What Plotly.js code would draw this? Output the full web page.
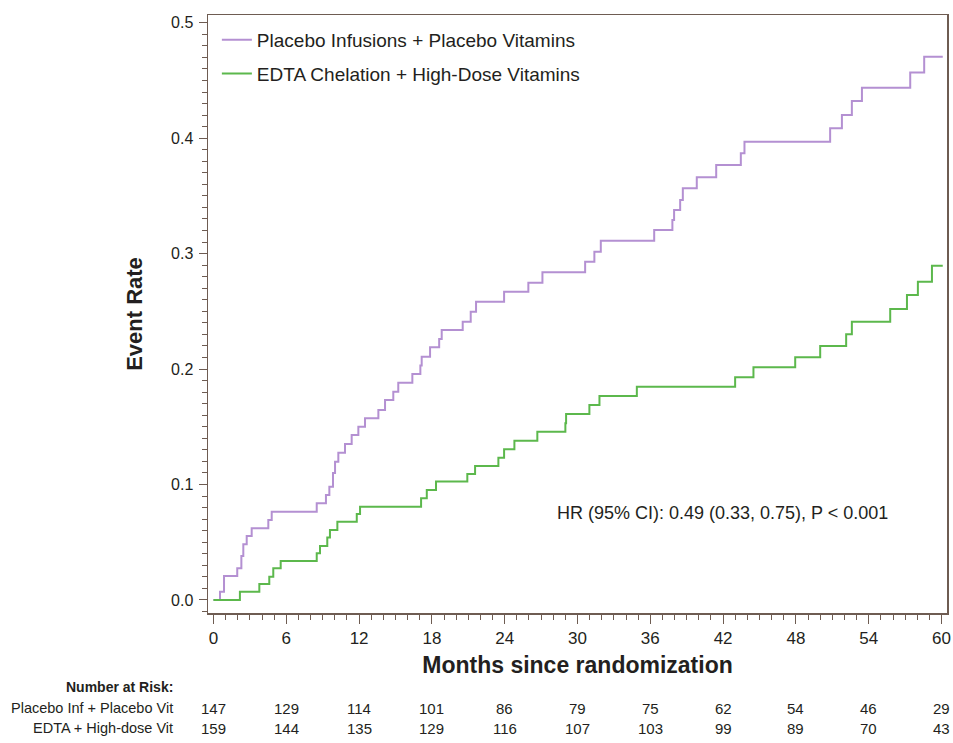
<!DOCTYPE html>
<html><head><meta charset="utf-8">
<script src="https://cdn.plot.ly/plotly-3.0.1.min.js"></script>
<style>body{margin:0;background:#fff}#chart{width:953px;height:743px}</style>
</head><body><div id="chart"></div>
<script>
// Step times (months) and cumulative event rates
const placeboTimes = [0, 0.54, 0.87, 1.96, 2.3, 2.46, 2.74, 3.15, 4.52, 4.80, 8.51, 9.27, 9.55, 9.85, 10.02, 10.29, 10.84, 11.39, 11.94, 12.49, 13.59, 14.14, 14.82, 15.23, 16.39, 17.05, 17.16, 17.85, 18.6, 18.81, 20.54, 21.20, 21.64, 23.95, 25.95, 27.11, 30.63, 31.39, 31.92, 36.32, 37.82, 37.96, 38.46, 38.68, 39.83, 41.43, 43.46, 43.76, 50.82, 51.79, 52.61, 53.44, 57.42, 58.57, 60.1];
const placeboRate  = [0, 0.0072, 0.0208, 0.0275, 0.038, 0.0482, 0.0554, 0.0621, 0.0693, 0.0765, 0.0838, 0.0909, 0.0981, 0.110, 0.1198, 0.1276, 0.1351, 0.1429, 0.1501, 0.1574, 0.1646, 0.1732, 0.1804, 0.1882, 0.1957, 0.203, 0.2107, 0.2189, 0.226, 0.2338, 0.2410, 0.2497, 0.2584, 0.2670, 0.2748, 0.2838, 0.2930, 0.3017, 0.3112, 0.3205, 0.3291, 0.3378, 0.3464, 0.3566, 0.3661, 0.3768, 0.3869, 0.3969, 0.4085, 0.4201, 0.4322, 0.4437, 0.4570, 0.4706, 0.4706];
const edtaTimes = [0, 2.18, 3.78, 4.60, 4.93, 5.54, 8.51, 8.78, 9.38, 9.60, 10.21, 11.81, 12.08, 17.11, 17.58, 18.34, 20.92, 21.56, 23.48, 23.95, 24.80, 26.69, 29.0, 29.06, 30.98, 31.81, 34.89, 42.99, 44.50, 47.94, 50.0, 52.14, 52.61, 55.77, 57.15, 58.05, 59.21, 60.1];
const edtaRate  = [0, 0.0072, 0.0139, 0.0202, 0.0275, 0.0338, 0.0404, 0.0468, 0.0540, 0.0606, 0.0678, 0.0745, 0.0808, 0.0881, 0.0953, 0.1025, 0.1091, 0.1161, 0.1232, 0.1305, 0.1380, 0.1458, 0.153, 0.1611, 0.1689, 0.1767, 0.1847, 0.1929, 0.2015, 0.2102, 0.2200, 0.2301, 0.2410, 0.2520, 0.2642, 0.2757, 0.2895, 0.2895];

// Number at risk table
const riskTimes = [0, 6, 12, 18, 24, 30, 36, 42, 48, 54, 60];
const riskPlacebo = [147, 129, 114, 101, 86, 79, 75, 62, 54, 46, 29];
const riskEDTA = [159, 144, 135, 129, 116, 107, 103, 99, 89, 70, 43];
const riskLabels = ['Placebo Inf + Placebo Vit', 'EDTA + High-dose Vit'];
const seriesNames = ['Placebo Infusions + Placebo Vitamins', 'EDTA Chelation + High-Dose Vitamins'];
const yTicks = [0, 0.1, 0.2, 0.3, 0.4, 0.5];

const purple = '#b490d2', green = '#5cb84c', axisCol = '#6e5c52', txt = '#231f20';
const narrow = '"Liberation Sans Narrow", "Arial Narrow", "Liberation Sans", Arial, sans-serif';
const sans = '"Liberation Sans", Arial, sans-serif';

const traces = [
  {x: placeboTimes, y: placeboRate, name: seriesNames[0], mode: 'lines', line: {shape: 'hv', color: purple, width: 2}, legendgroup: 'a'},
  {x: edtaTimes, y: edtaRate, name: seriesNames[1], mode: 'lines', line: {shape: 'hv', color: green, width: 2}, legendgroup: 'b'}
];

const annotations = [];
// HR text
annotations.push({xref: 'paper', yref: 'paper', x: 0.470, y: 0.167, xanchor: 'left', yanchor: 'middle', showarrow: false,
  text: 'HR (95% CI): 0.49 (0.33, 0.75), P &lt; 0.001', font: {family: sans, size: 18, color: txt}});
// Number at risk header
annotations.push({xref: 'paper', yref: 'paper', x: -0.045, y: -0.123, xanchor: 'right', yanchor: 'middle', showarrow: false,
  text: '<b>Number at Risk:</b>', font: {family: narrow, size: 14, color: txt}});
const rows = [riskPlacebo, riskEDTA];
const rowY = [-0.159, -0.193];
rows.forEach((row, r) => {
  annotations.push({xref: 'paper', yref: 'paper', x: -0.045, y: rowY[r], xanchor: 'right', yanchor: 'middle', showarrow: false,
    text: riskLabels[r], font: {family: narrow, size: 14.5, color: txt}});
  row.forEach((v, i) => {
    annotations.push({xref: 'x', yref: 'paper', x: riskTimes[i], y: rowY[r], xanchor: 'center', yanchor: 'middle', showarrow: false,
      text: String(v), font: {family: narrow, size: 15, color: txt}});
  });
});

const layout = {
  width: 953, height: 743,
  margin: {l: 208, r: 6, t: 15, b: 130},
  paper_bgcolor: '#fff', plot_bgcolor: '#fff',
  showlegend: true,
  legend: {x: 0.012, y: 0.99, xanchor: 'left', yanchor: 'top', bgcolor: 'rgba(0,0,0,0)',
    font: {family: sans, size: 19, color: txt}, traceorder: 'grouped', tracegroupgap: 6, itemwidth: 30},
  xaxis: {
    range: [-0.45, 60.45], tickvals: riskTimes, ticktext: riskTimes.map(String),
    ticks: 'outside', ticklen: 9, tickwidth: 1, tickcolor: axisCol,
    minor: {dtick: 1, ticks: 'outside', ticklen: 5, tickcolor: axisCol, showgrid: false},
    showline: true, linecolor: axisCol, linewidth: 1.5, mirror: true,
    showgrid: false, zeroline: false,
    tickfont: {family: narrow, size: 17, color: txt}, ticklabelstandoff: 0,
    title: {text: '<b>Months since randomization</b>', font: {family: sans, size: 23, color: txt}, standoff: 10}
  },
  yaxis: {
    range: [-0.0113, 0.5067], tickvals: yTicks, tickformat: '.1f',
    ticks: 'outside', ticklen: 8, tickwidth: 1, tickcolor: axisCol,
    minor: {dtick: 0.01, ticks: 'outside', ticklen: 5, tickcolor: axisCol, showgrid: false},
    showline: true, linecolor: axisCol, linewidth: 1.5, mirror: true,
    showgrid: false, zeroline: false,
    tickfont: {family: sans, size: 16, color: txt}, ticklabelstandoff: 2,
    title: {text: '<b>Event Rate</b>', font: {family: sans, size: 22, color: txt}, standoff: 22}
  },
  annotations: annotations
};

Plotly.newPlot('chart', traces, layout, {staticPlot: true, displayModeBar: false});
</script>
</body></html>
